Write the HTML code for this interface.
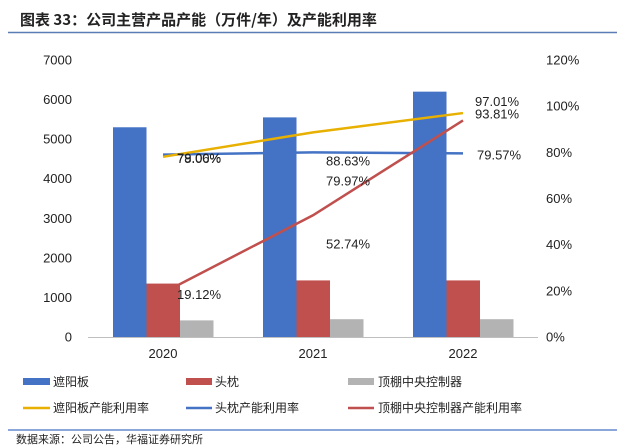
<!DOCTYPE html>
<html><head><meta charset="utf-8"><style>
body{margin:0;background:#fff;}
svg{display:block;font-family:"Liberation Sans","Noto Sans CJK SC",sans-serif;}
.cn{font-family:"Noto Sans CJK SC","WenQuanYi Zen Hei",sans-serif;}
</style></head><body>
<svg id="c" width="633" height="447" viewBox="0 0 633 447">
<text class="cn" x="20" y="25" font-size="15" font-weight="bold" fill="#222">图表 33：公司主营产品产能（万件/年）及产能利用率</text>
<line x1="8" y1="32.5" x2="617" y2="32.5" stroke="#5b7db5" stroke-width="1.5"/>
<g id="plot"></g>
<g class="cn" font-size="12" fill="#222">
<rect x="23" y="378" width="27" height="7" fill="#4472c4"/>
<text x="53" y="386">遮阳板</text>
<rect x="186" y="378" width="26" height="7" fill="#c0504d"/>
<text x="215" y="386">头枕</text>
<rect x="348" y="378" width="26" height="7" fill="#b3b3b3"/>
<text x="378" y="386">顶棚中央控制器</text>
<line x1="23" y1="408" x2="50" y2="408" stroke="#e8b000" stroke-width="2.5"/>
<text x="53" y="412">遮阳板产能利用率</text>
<line x1="186" y1="408" x2="212" y2="408" stroke="#4472c4" stroke-width="2.5"/>
<text x="215" y="412">头枕产能利用率</text>
<line x1="348" y1="408" x2="374" y2="408" stroke="#c0504d" stroke-width="2.5"/>
<text x="378" y="412">顶棚中央控制器产能利用率</text>
</g>
<line x1="8" y1="430" x2="617" y2="430" stroke="#4472c4" stroke-width="1.2"/>
<text class="cn" x="16" y="443" font-size="11" fill="#222">数据来源：公司公告，华福证券研究所</text>
</svg>
<script>
const categories=["2020","2021","2022"];
const shadeCap=[5300,5550,6200];
const headrestCap=[1350,1430,1430];
const consoleCap=[420,450,450];
const shadeRate=[78.06,88.63,97.01];
const headrestRate=[79.00,79.97,79.57];
const consoleRate=[19.12,52.74,93.81];
const leftTicks=[0,1000,2000,3000,4000,5000,6000,7000];
const rightTicks=[0,20,40,60,80,100,120];

const NS="http://www.w3.org/2000/svg";
const g=document.getElementById('plot');
const x0=88,x1=538,yTop=60,yBot=337;
const yL=v=>yBot-v/7000*(yBot-yTop);
const yR=v=>yBot-v/120*(yBot-yTop);
const xC=i=>x0+(x1-x0)/categories.length*(i+0.5);
function mk(t,a){const e=document.createElementNS(NS,t);for(const k in a)e.setAttribute(k,a[k]);g.appendChild(e);return e;}

leftTicks.forEach(v=>{
 const t=mk('text',{x:72,y:yL(v)+4.5,'text-anchor':'end','font-size':13,fill:'#222'});t.textContent=v;
 
 
});
rightTicks.forEach(v=>{
 const t=mk('text',{x:546,y:yR(v)+4.5,'font-size':13,fill:'#222'});t.textContent=v+'%';
 
 
});
const ax=mk('line',{x1:x0,y1:yBot+0.5,x2:x1,y2:yBot+0.5,stroke:'#bfbfbf','stroke-width':1});



const series=[[shadeCap,'#4472c4','bar-shade'],[headrestCap,'#c0504d','bar-headrest'],[consoleCap,'#b3b3b3','bar-console']];
const bw=33.5;
categories.forEach((c,i)=>{
 series.forEach((s,j)=>{
  const x=xC(i)-50+j*bw;
  const r=mk('rect',{x:x,y:yL(s[0][i]),width:bw,height:yBot-yL(s[0][i]),fill:s[1]});
  
  
 });
 const t=mk('text',{x:xC(i),y:358,'text-anchor':'middle','font-size':13,fill:'#222'});t.textContent=c;
 
 
});

const lines=[[headrestRate,'#4472c4','line-headrest-rate'],[shadeRate,'#e8b000','line-shade-rate'],[consoleRate,'#c0504d','line-console-rate']];
lines.forEach(l=>{
 const p=mk('polyline',{points:l[0].map((v,i)=>xC(i)+','+yR(v)).join(' '),fill:'none',stroke:l[1],'stroke-width':2.5});
 
 
});
function lab(v,i,dx,dy,name){
 const t=mk('text',{x:xC(i)+dx,y:yR(v)+dy,'font-size':13,fill:'#222'});t.textContent=v.toFixed(2)+'%';
 
 
}
lab(shadeRate[0],0,14,6,'label-shade-rate');
lab(headrestRate[0],0,14,8,'label-headrest-rate');
lab(consoleRate[0],0,14,6,'label-console-rate');
lab(shadeRate[1],1,13,33,'label-shade-rate');
lab(headrestRate[1],1,13,33,'label-headrest-rate');
lab(consoleRate[1],1,13,33,'label-console-rate');
lab(shadeRate[2],2,12,-7,'label-shade-rate');
lab(consoleRate[2],2,12,-2,'label-console-rate');
lab(headrestRate[2],2,14,6,'label-headrest-rate');
</script>
</body></html>
